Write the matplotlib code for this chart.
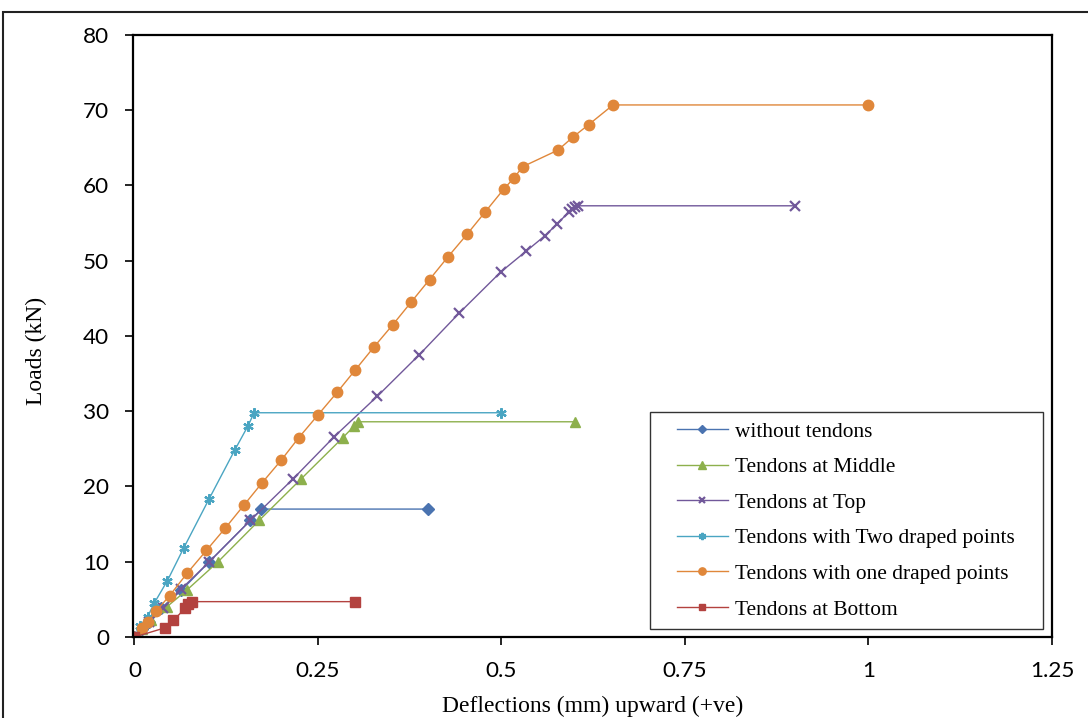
import matplotlib.pyplot as plt
from matplotlib.patches import Rectangle
from matplotlib.legend_handler import HandlerLine2D

# load-deflection readings for each tendon layout
x_none = [0, 0.010, 0.020, 0.036, 0.064, 0.102, 0.158, 0.173, 0.40]
y_none = [0, 1.0, 2.0, 3.8, 6.2, 10.0, 15.5, 17.0, 17.0]

x_mid = [0, 0.010, 0.022, 0.044, 0.071, 0.114, 0.170, 0.227, 0.284, 0.299, 0.305, 0.60]
y_mid = [0, 1.0, 2.2, 4.0, 6.2, 10.0, 15.5, 21.0, 26.5, 28.0, 28.6, 28.6]

x_top = [0, 0.010, 0.020, 0.039, 0.064, 0.102, 0.158, 0.216, 0.272, 0.331, 0.388,
         0.442, 0.499, 0.534, 0.559, 0.576, 0.592, 0.596, 0.600, 0.604, 0.90]
y_top = [0, 1.0, 2.0, 3.8, 6.4, 10.0, 15.5, 21.0, 26.6, 32.0, 37.5,
         43.0, 48.5, 51.3, 53.3, 54.9, 56.5, 56.9, 57.2, 57.3, 57.3]

x_two = [0, 0.008, 0.018, 0.027, 0.045, 0.067, 0.102, 0.137, 0.155, 0.163, 0.50]
y_two = [0, 1.5, 2.7, 4.5, 7.5, 11.8, 18.4, 24.9, 28.1, 29.8, 29.8]

x_one = [0, 0.010, 0.019, 0.030, 0.048, 0.072, 0.098, 0.124, 0.149, 0.174, 0.200,
         0.224, 0.250, 0.276, 0.301, 0.326, 0.352, 0.377, 0.402, 0.427, 0.453,
         0.478, 0.503, 0.517, 0.529, 0.577, 0.597, 0.619, 0.652, 1.0]
y_one = [0, 1.2, 2.0, 3.5, 5.5, 8.5, 11.5, 14.5, 17.5, 20.5, 23.5,
         26.5, 29.5, 32.5, 35.5, 38.5, 41.5, 44.5, 47.5, 50.5, 53.5,
         56.5, 59.5, 61.0, 62.5, 64.7, 66.4, 68.1, 70.7, 70.7]

x_bot = [0, 0.041, 0.053, 0.069, 0.073, 0.079, 0.30]
y_bot = [0, 1.2, 2.2, 3.8, 4.4, 4.7, 4.7]

series = [
    (x_none, y_none, 'without tendons', '#4A73B0', 'D', 6),
    (x_mid, y_mid, 'Tendons at Middle', '#8DB04C', '^', 7.5),
    (x_top, y_top, 'Tendons at Top', '#71589A', 'x', 7),
    (x_two, y_two, 'Tendons with Two draped points', '#4AA5C2', (6, 2, 0), 7.5),
    (x_one, y_one, 'Tendons with one draped points', '#E0873A', 'o', 7.5),
    (x_bot, y_bot, 'Tendons at Bottom', '#B3423F', 's', 7),
]

fig = plt.figure(figsize=(10.88, 7.18), dpi=100)
ax = fig.add_axes([0.1222, 0.1128, 0.8447, 0.8385])

lines = []
for xs, ys, name, col, mk, ms in series:
    ln, = ax.plot(xs, ys, color=col, lw=1.0, marker=mk, ms=ms, mfc=col, mec=col,
                  mew=1.6 if mk == 'x' or isinstance(mk, tuple) else 1.0, label=name)
    lines.append(ln)

ax.set_xlim(-0.002, 1.25)
ax.set_ylim(0, 80)
ax.set_xticks([0, 0.25, 0.5, 0.75, 1, 1.25])
ax.set_xticklabels(['0', '0.25', '0.5', '0.75', '1', '1.25'])
ax.set_yticks(range(0, 81, 10))

for s in ax.spines.values():
    s.set_linewidth(1.6)
ax.tick_params(direction='out', length=6, width=1.2, labelsize=16.2, pad=11)
ax.tick_params(axis='x', pad=11)
for lab in ax.get_xticklabels() + ax.get_yticklabels():
    lab.set_family('Lato')

ax.set_xlabel('Deflections (mm) upward (+ve)', family='Liberation Serif', fontsize=17)
ax.set_ylabel('Loads (kN)', family='Liberation Serif', fontsize=17)
ax.xaxis.set_label_coords(0.5, -0.097)
ax.yaxis.set_label_coords(-0.093, 0.475)

# legend box stretched to a fixed width, handles inset from the left edge
leg = ax.legend(handles=lines, loc='lower left',
                bbox_to_anchor=(0.5626, 0.013, 0.4276, 0.2), mode='expand',
                prop={'family': 'Liberation Serif', 'size': 15.4},
                fancybox=False, edgecolor='#333333', framealpha=1,
                handlelength=3.19, handletextpad=0.32, labelspacing=0.73,
                borderpad=0.45, borderaxespad=0, markerscale=0.7,
                handler_map={ln: HandlerLine2D(xpad=0.8) for ln in lines})
leg.get_frame().set_linewidth(1.0)

# chart area border running off the bottom and right edges
fig.patches.append(Rectangle((3 / 1088, -0.2), 1.2, 1.2 + (718 - 12) / 718 - 1,
                             transform=fig.transFigure, fill=False,
                             edgecolor='#222222', lw=1.5))

fig.savefig('out.png', dpi=100)
